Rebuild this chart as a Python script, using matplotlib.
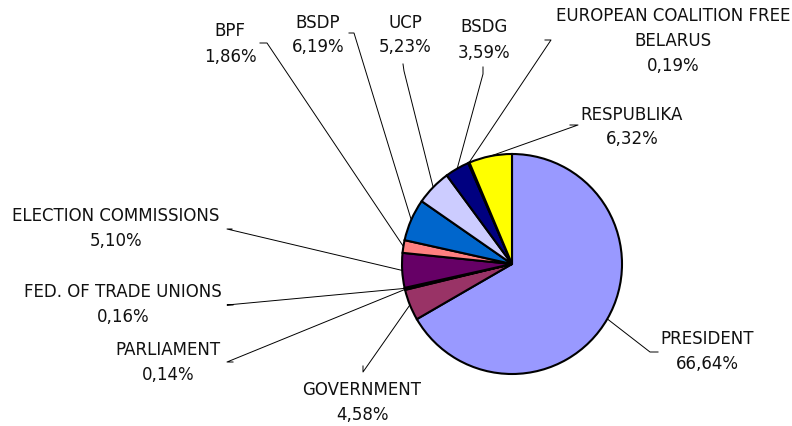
import numpy as np
import matplotlib
matplotlib.use("Agg")
import matplotlib.pyplot as plt

# ---- data ----
labels = ["PRESIDENT", "GOVERNMENT", "PARLIAMENT", "FED. OF TRADE UNIONS",
          "ELECTION COMMISSIONS", "BPF", "BSDP", "UCP", "BSDG",
          "EUROPEAN COALITION FREE\nBELARUS", "RESPUBLIKA"]
shares = [66.64, 4.58, 0.14, 0.16, 5.10, 1.86, 6.19, 5.23, 3.59, 0.19, 6.32]
colors = ["#9999FF", "#993366", "#FFFFCC", "#CCFFFF", "#660066", "#FF8080",
          "#0066CC", "#CCCCFF", "#000080", "#FF00FF", "#FFFF00"]

# ---- layout (pixel positions, y from top) ----
W, H = 792, 427
pie_center = (512, 265)
pie_radius = 110
# text block centre, elbow point, end of the short tick next to the text
label_pos = [(707, 352), (362, 403), (168, 363), (123, 305), (116, 229),
             (230, 44), (318, 35), (405, 35), (484, 40), (673, 41), (632, 127)]
elbows = [(650, 353), (363, 373), (227, 363), (227, 306), (227, 230),
          (267, 44), (354, 34), (404, 72), (483, 75), (551, 41), (578, 126)]
ticks = [(658, 353), (363, 367), (233, 363), (233, 306), (232, 230),
         (260, 44), (349, 34), (403, 65), (483, 68), (545, 41), (570, 126)]


def py(y):
    return H - y


fig = plt.figure(figsize=(W / 100, H / 100), dpi=100)
ax = fig.add_axes([0, 0, 1, 1])
ax.set_xlim(0, W)
ax.set_ylim(0, H)
ax.set_aspect("equal")
ax.axis("off")

wedges, _ = ax.pie(shares, colors=colors, startangle=90, counterclock=False,
                   center=(pie_center[0], py(pie_center[1])), radius=pie_radius,
                   wedgeprops=dict(edgecolor="black", linewidth=1.5),
                   frame=True)
ax.set_xlim(0, W)
ax.set_ylim(0, H)
ax.axis("off")

for w, lab, val, tp, el, tk in zip(wedges, labels, shares, label_pos, elbows, ticks):
    mid = np.deg2rad((w.theta1 + w.theta2) / 2)
    cx, cy = w.center
    ex, ey = cx + w.r * np.cos(mid), cy + w.r * np.sin(mid)
    ax.plot([ex, el[0], tk[0]], [ey, py(el[1]), py(tk[1])], color="black",
            lw=0.7, zorder=0.5)
    txt = f"{lab}\n{val:.2f}%".replace(".", ",").replace("FED, ", "FED. ")
    ax.text(tp[0], py(tp[1]), txt, ha="center", va="center", fontsize=12,
            linespacing=1.5, color="#111111", family="DejaVu Sans")

fig.savefig("out.png", dpi=100)
